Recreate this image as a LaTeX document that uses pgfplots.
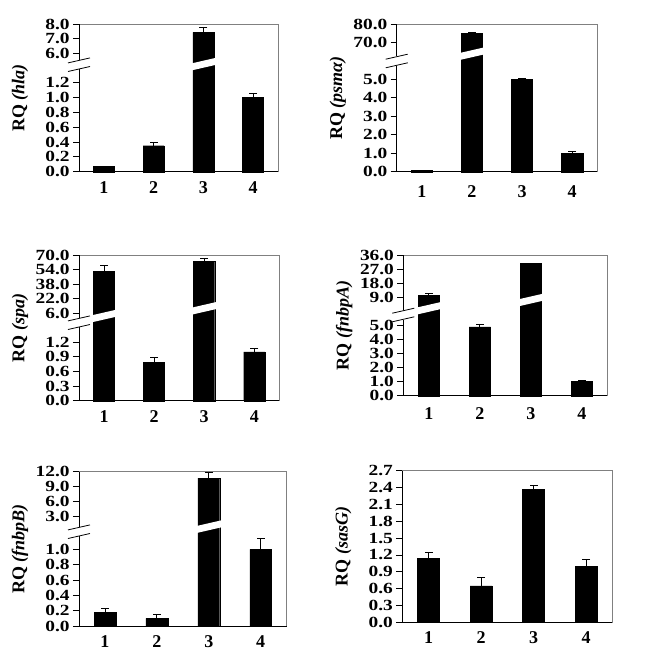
\documentclass[border=0pt]{standalone}
\usepackage{fontspec}
\setmainfont{Liberation Serif}
\usepackage{pgfplots}
\pgfplotsset{compat=1.18}
\usetikzlibrary{calc}

\pgfplotsset{
  rq/.style={
    scale only axis, anchor=south west,
    xmin=0.5, xmax=4.5, enlargelimits=false,
    xtick={1,2,3,4}, xticklabels={1,2,3,4},
    xtick style={draw=none},
    ytick style={black, line width=0.8pt},
    tick align=outside, major tick length=6pt,
    xtick pos=bottom, ytick pos=left,
    axis line style={gray, line width=0.8pt},
    xticklabel style={font=\fontsize{18}{18}\selectfont\bfseries},
    yticklabel style={font=\fontsize{15.5}{15.5}\selectfont\bfseries, xscale=1.25, inner xsep=2.5pt},
    clip=false,
    every axis y label/.style={at={($(rel axis cs:0,0.5)+(-59pt,0)$)}, rotate=90, anchor=center, font=\fontsize{18}{18}\selectfont\bfseries},
  },
  bars/.style={ybar, bar width=0.42, fill=black, draw=black},
  errs/.style={ycomb, black, line width=0.8pt, mark=-, mark size=4pt, mark options={black, line width=0.8pt, solid}},
}

% black left and bottom axis lines
\newcommand{\frameLB}{\draw[black, line width=0.8pt] (rel axis cs:0,1) -- (rel axis cs:0,0) -- (rel axis cs:1,0);}
% break mark on the left axis, #1 = height above bottom in pt
\newcommand{\axbrk}[1]{%
  \fill[white] ($(axis cs:0.5,0)+(-1.6pt,#1pt-4.6pt)$) rectangle ($(axis cs:0.5,0)+(1.6pt,#1pt+4.6pt)$);
  \draw[black, line width=0.8pt] ($(axis cs:0.5,0)+(-11pt,#1pt+1.8pt)$) -- ($(axis cs:0.5,0)+(11pt,#1pt+6.8pt)$);
  \draw[black, line width=0.8pt] ($(axis cs:0.5,0)+(-11pt,#1pt-6.8pt)$) -- ($(axis cs:0.5,0)+(11pt,#1pt-1.8pt)$);
}
% white slash across a bar, #1 = x, #2 = height above bottom in pt
\newcommand{\barbrk}[2]{%
  \fill[white] ($(axis cs:#1,0)+(-12pt,#2pt-6.25pt)$) -- ($(axis cs:#1,0)+(12pt,#2pt-0.75pt)$) -- ($(axis cs:#1,0)+(12pt,#2pt+6.25pt)$) -- ($(axis cs:#1,0)+(-12pt,#2pt+0.75pt)$) -- cycle;
}

\begin{document}
\begin{tikzpicture}
\useasboundingbox (0,0) rectangle (645pt,-666pt);

% ---------- hla ----------
\begin{axis}[rq, at={(79pt,-171.7pt)}, width=199pt, height=147.4pt, ymin=0, ymax=8,
  y coord trafo/.code={\pgfmathparse{#1<3 ? #1*74.17 : 118.4+(#1-6)*14.5}},
  ytick={0,0.2,0.4,0.6,0.8,1.0,1.2,6,7,8},
  yticklabels={0.0,0.2,0.4,0.6,0.8,1.0,1.2,6.0,7.0,8.0},
  ylabel={RQ \textit{(hla)}}]
\addplot[bars] coordinates {(1,0.07) (2,0.35) (3,7.45) (4,1.0)};
% tops of the error bars
\addplot[errs] coordinates {(1,0.07) (2,0.39) (3,7.78) (4,1.05)};
\frameLB
\barbrk{3}{107.5}
\axbrk{107}
\end{axis}

% ---------- psm alpha ----------
\begin{axis}[rq, at={(396.7pt,-171.7pt)}, width=200.6pt, height=147.4pt, ymin=0, ymax=80,
  y coord trafo/.code={\pgfmathparse{#1<30 ? #1*18.48 : 129.4+(#1-70)*1.8}},
  ytick={0,1,2,3,4,5,70,80},
  yticklabels={0.0,1.0,2.0,3.0,4.0,5.0,70.0,80.0},
  xticklabel style={yshift=-4pt},
  ylabel={RQ \textit{(psmα)}}]
\addplot[bars] coordinates {(1,0.08) (2,75.0) (3,5.0) (4,1.0)};
\addplot[errs] coordinates {(1,0.08) (2,75.5) (3,5.04) (4,1.12)};
\frameLB
\barbrk{2}{118}
\axbrk{110.7}
\end{axis}

% ---------- spa ----------
\begin{axis}[rq, at={(79pt,-400.7pt)}, width=200.3pt, height=145.7pt, ymin=0, ymax=70,
  y coord trafo/.code={\pgfmathparse{#1<3 ? #1*48.9 : 87.4+(#1-6)*0.911}},
  ytick={0,0.3,0.6,0.9,1.2,6,22,38,54,70},
  yticklabels={0.0,0.3,0.6,0.9,1.2,6.0,22.0,38.0,54.0,70.0},
  ylabel={RQ \textit{(spa)}}]
\addplot[bars] coordinates {(1,52.4) (2,0.78) (3,63.3) (4,1.0)};
\addplot[errs] coordinates {(1,58.9) (2,0.88) (3,66.3) (4,1.06)};
\frameLB
\barbrk{1}{84.7}
\barbrk{3}{92.4}
\axbrk{78}
\end{axis}

% ---------- fnbpA ----------
\begin{axis}[rq, at={(403.3pt,-395.7pt)}, width=204pt, height=140.7pt, ymin=0, ymax=36,
  y coord trafo/.code={\pgfmathparse{#1<7 ? #1*14.08 : 98+(#1-9)*1.581}},
  ytick={0,1,2,3,4,5,9,18,27,36},
  yticklabels={0.0,1.0,2.0,3.0,4.0,5.0,9.0,18.0,27.0,36.0},
  xticklabel style={yshift=-2pt},
  ylabel={RQ \textit{(fnbpA)}}]
\addplot[bars] coordinates {(1,10.5) (2,4.88) (3,30.5) (4,1.0)};
\addplot[errs] coordinates {(1,11.7) (2,5.08) (3,30.9) (4,1.12)};
\frameLB
\barbrk{1}{87.4}
\barbrk{3}{95.7}
\axbrk{80.7}
\end{axis}

% ---------- fnbpB ----------
\begin{axis}[rq, at={(79pt,-626pt)}, width=207.7pt, height=154.3pt, ymin=0, ymax=12,
  y coord trafo/.code={\pgfmathparse{#1<2 ? #1*76.7 : 109.3+(#1-3)*5}},
  ytick={0,0.2,0.4,0.6,0.8,1.0,3,6,9,12},
  yticklabels={0.0,0.2,0.4,0.6,0.8,1.0,3.0,6.0,9.0,12.0},
  ylabel={RQ \textit{(fnbpB)}}]
\addplot[bars] coordinates {(1,0.18) (2,0.10) (3,10.7) (4,1.0)};
\addplot[errs] coordinates {(1,0.235) (2,0.155) (3,11.9) (4,1.14)};
\frameLB
\barbrk{3}{99.3}
\axbrk{94.3}
\end{axis}

% ---------- sasG ----------
\begin{axis}[rq, at={(402.3pt,-622.3pt)}, width=210pt, height=151.6pt, ymin=0, ymax=2.7,
  ytick={0,0.3,0.6,0.9,1.2,1.5,1.8,2.1,2.4,2.7},
  yticklabels={0.0,0.3,0.6,0.9,1.2,1.5,1.8,2.1,2.4,2.7},
  ylabel={RQ \textit{(sasG)}}]
\addplot[bars] coordinates {(1,1.14) (2,0.65) (3,2.37) (4,1.0)};
\addplot[errs] coordinates {(1,1.25) (2,0.80) (3,2.44) (4,1.12)};
\frameLB
\end{axis}
\end{tikzpicture}
\end{document}
